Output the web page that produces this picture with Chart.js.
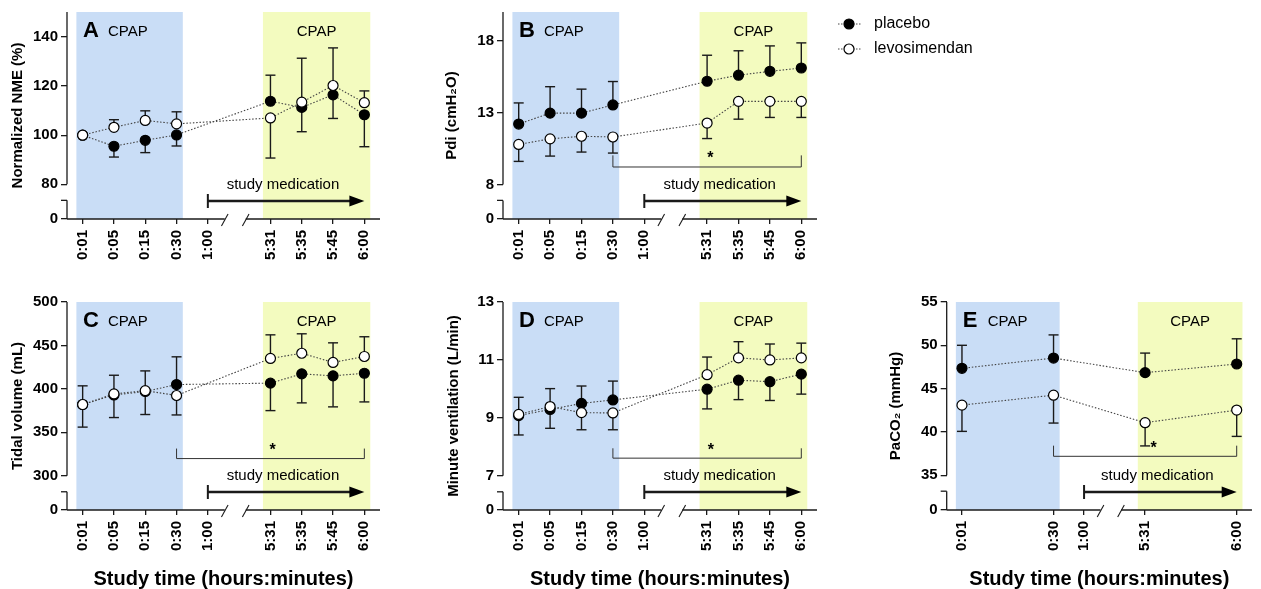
<!DOCTYPE html>
<html>
<head>
<meta charset="utf-8">
<script src="https://cdn.jsdelivr.net/npm/chart.js@4.4.1/dist/chart.umd.min.js"></script>
<style>
  body { margin: 0; background: #fff; width: 1261px; height: 589px; overflow: hidden; position: relative; }
  canvas { position: absolute; }
</style>
</head>
<body>
<script>
// time axis (index 5 is the axis break)
const timeLabels = ['0:01', '0:05', '0:15', '0:30', '1:00', '5:31', '5:35', '5:45', '6:00'];
const timeTicks = [0, 1, 2, 3, 4, 6, 7, 8, 9];
const samplePos = [0, 1, 2, 3, 6, 7, 8, 9];
const gasLabels = ['0:01', '0:30', '1:00', '5:31', '6:00'];
const gasTicks = [0, 3, 4, 6, 9];
const gasPos = [0, 3, 6, 9];

// A - normalized NME (%)
const nmeTicks = [80, 100, 120, 140];
const nmePlacebo = [100, 95.5, 97.9, 100.1, 113.8, 111.3, 116.4, 108.3];
const nmePlaceboUp = [null, null, null, null, 124.4, null, null, null];
const nmePlaceboDown = [null, 91.1, 92.9, 95.6, null, 101.4, 106.8, 95.3];
const nmeLevo = [100, 103.2, 106.0, 104.6, 107.0, 113.4, 120.2, 113.2];
const nmeLevoUp = [null, 106.3, 109.9, 109.5, null, 131.3, 135.5, 118.0];
const nmeLevoDown = [null, null, null, null, 90.7, null, null, null];

// B - Pdi (cmH2O)
const pdiTicks = [8, 13, 18];
const pdiPlacebo = [12.2, 12.96, 12.96, 13.53, 15.18, 15.6, 15.87, 16.1];
const pdiPlaceboUp = [13.67, 14.8, 14.63, 15.16, 16.99, 17.3, 17.64, 17.85];
const pdiLevo = [10.78, 11.17, 11.35, 11.3, 12.27, 13.78, 13.78, 13.78];
const pdiLevoDown = [9.6, 9.97, 10.25, 10.18, 11.19, 12.54, 12.66, 12.66];
const pdiBracket = [3, 9, 9.21, 10.02];   // from, to, level, end tops
const pdiStar = [6.1, 10.0];

// C - tidal volume (mL)
const vtTicks = [300, 350, 400, 450, 500];
const vtPlacebo = [382, 393, 397, 405, 406.6, 417.3, 415, 418];
const vtPlaceboUp = [403.5, 415.7, 420.7, 436.9, null, null, null, null];
const vtPlaceboDown = [null, null, null, null, 375, 383.9, 379.3, 385];
const vtLevo = [382, 394.2, 398, 392.4, 435, 441, 430.4, 437.3];
const vtLevoUp = [null, null, null, null, 462.2, 463.4, 453, 460];
const vtLevoDown = [356, 367, 370.5, 370, null, null, null, null];
const vtBracket = [3, 9, 319.8, 331.3];
const vtStar = [6.07, 333];

// D - minute ventilation (L/min)
const mvTicks = [7, 9, 11, 13];
const mvPlacebo = [9.08, 9.29, 9.5, 9.62, 9.99, 10.3, 10.25, 10.51];
const mvPlaceboUp = [9.71, 10.01, 10.1, 10.27, null, null, null, null];
const mvPlaceboDown = [null, null, null, null, 9.31, 9.63, 9.6, 9.82];
const mvLevo = [9.12, 9.39, 9.18, 9.17, 10.49, 11.07, 11.0, 11.07];
const mvLevoUp = [null, null, null, null, 11.1, 11.63, 11.55, 11.58];
const mvLevoDown = [8.41, 8.64, 8.59, 8.59, null, null, null, null];
const mvBracket = [3, 9, 7.61, 7.95];
const mvStar = [6.12, 7.98];

// E - PaCO2 (mmHg)
const paTicks = [35, 40, 45, 50, 55];
const paPlacebo = [47.34, 48.53, 46.84, 47.84];
const paPlaceboUp = [50.0, 51.2, 49.1, 50.75];
const paLevo = [43.09, 44.24, 41.06, 42.52];
const paLevoDown = [40.06, 41.02, 38.38, 39.48];
const paBracket = [3, 9, 37.18, 38.41];
const paStar = [6.28, 38.4];

const FONT = "'Liberation Sans', Arial, Helvetica, sans-serif";
const INK = '#1a1a1a';
const BLUE = '#c9ddf6';
const GREEN = '#f3fbbf';
Chart.defaults.font.family = FONT;
Chart.defaults.color = '#000';

const panels = [
  { letter: 'A', title: 'Normalized NME (%)', ticks: nmeTicks, min: 65.9, max: 150.1,
    pos: samplePos, xTicks: timeTicks, xLabels: timeLabels,
    placebo: [nmePlacebo, nmePlaceboUp, nmePlaceboDown], levo: [nmeLevo, nmeLevoUp, nmeLevoDown],
    bracket: null, star: null,
    box: { left: 0, top: 0, w: 420, h: 290, yw: 67, xh: 71, padTop: 10, padRight: 40, titleX: 17.5 } },
  { letter: 'B', title: 'Pdi (cmH\u2082O)', ticks: pdiTicks, min: 5.59, max: 20,
    pos: samplePos, xTicks: timeTicks, xLabels: timeLabels,
    placebo: [pdiPlacebo, pdiPlaceboUp, null], levo: [pdiLevo, null, pdiLevoDown],
    bracket: pdiBracket, star: pdiStar, legend: true,
    box: { left: 420, top: 0, w: 841, h: 290, yw: 83, xh: 71, padTop: 10, padRight: 444, titleX: 31.5 } },
  { letter: 'C', title: 'Tidal volume (mL)', ticks: vtTicks, min: 260.6, max: 500,
    pos: samplePos, xTicks: timeTicks, xLabels: timeLabels,
    placebo: [vtPlacebo, vtPlaceboUp, vtPlaceboDown], levo: [vtLevo, vtLevoUp, vtLevoDown],
    bracket: vtBracket, star: vtStar, xTitle: true,
    box: { left: 0, top: 290, w: 420, h: 299, yw: 67, xh: 79, padTop: 11, padRight: 40, titleX: 17.5 } },
  { letter: 'D', title: 'Minute ventilation (L/min)', ticks: mvTicks, min: 5.82, max: 13,
    pos: samplePos, xTicks: timeTicks, xLabels: timeLabels,
    placebo: [mvPlacebo, mvPlaceboUp, mvPlaceboDown], levo: [mvLevo, mvLevoUp, mvLevoDown],
    bracket: mvBracket, star: mvStar, xTitle: true,
    box: { left: 420, top: 290, w: 420, h: 299, yw: 83, xh: 79, padTop: 11, padRight: 23, titleX: 34 } },
  { letter: 'E', title: 'PaCO\u2082 (mmHg)', ticks: paTicks, min: 30.98, max: 55,
    pos: gasPos, xTicks: gasTicks, xLabels: gasLabels,
    placebo: [paPlacebo, paPlaceboUp, null], levo: [paLevo, null, paLevoDown],
    bracket: paBracket, star: paStar, xTitle: true,
    box: { left: 840, top: 290, w: 421, h: 299, yw: 106.7, xh: 79, padTop: 11, padRight: 1.7, titleX: 56 } }
];

function seg(ctx, x1, y1, x2, y2) {
  ctx.beginPath(); ctx.moveTo(x1, y1); ctx.lineTo(x2, y2); ctx.stroke();
}

function marker(ctx, x, y, filled) {
  ctx.beginPath();
  ctx.arc(x, y, 5, 0, Math.PI * 2);
  ctx.fillStyle = filled ? '#000' : '#fff';
  ctx.fill();
  ctx.lineWidth = 1.2; ctx.strokeStyle = '#000';
  ctx.stroke();
}

function decoPlugin(p) {
  return {
    id: 'deco' + p.letter,
    beforeDraw(chart) {
      const { ctx, chartArea: a, scales: { x } } = chart;
      ctx.save();
      ctx.fillStyle = BLUE;
      ctx.fillRect(x.getPixelForValue(-0.2), a.top, x.getPixelForValue(3.2) - x.getPixelForValue(-0.2), a.bottom - a.top);
      ctx.fillStyle = GREEN;
      ctx.fillRect(x.getPixelForValue(5.76), a.top, x.getPixelForValue(9.19) - x.getPixelForValue(5.76), a.bottom - a.top);
      ctx.restore();
    },
    beforeDatasetsDraw(chart) {
      // error bars, under the markers
      const { ctx, scales: { x, y } } = chart;
      ctx.save();
      ctx.strokeStyle = INK; ctx.lineWidth = 1.4;
      [p.placebo, p.levo].forEach(s => {
        [s[1], s[2]].forEach(ends => {
          if (!ends) return;
          ends.forEach((e, i) => {
            if (e == null) return;
            const px = x.getPixelForValue(p.pos[i]);
            seg(ctx, px, y.getPixelForValue(s[0][i]), px, y.getPixelForValue(e));
            seg(ctx, px - 5, y.getPixelForValue(e), px + 5, y.getPixelForValue(e));
          });
        });
      });
      ctx.restore();
    },
    afterDraw(chart) {
      const { ctx, chartArea: a, scales: { x, y } } = chart;
      ctx.save();
      ctx.strokeStyle = INK; ctx.lineWidth = 1.3;
      // broken y axis
      const yb = y.getPixelForValue(p.ticks[0]);
      seg(ctx, a.left, a.top, a.left, yb);
      seg(ctx, a.left, yb + 16, a.left, a.bottom);
      seg(ctx, a.left - 6, yb + 16, a.left, yb + 16);
      // broken x axis
      const s1 = x.getPixelForValue(4.54), s2 = x.getPixelForValue(5.21);
      seg(ctx, a.left, a.bottom, s1, a.bottom);
      seg(ctx, s2, a.bottom, a.right, a.bottom);
      ctx.lineWidth = 1.1;
      seg(ctx, s1 - 3.3, a.bottom + 7, s1 + 3.3, a.bottom - 5);
      seg(ctx, s2 - 3.3, a.bottom + 7, s2 + 3.3, a.bottom - 5);

      // panel letter and CPAP labels
      ctx.fillStyle = '#000';
      ctx.textBaseline = 'middle';
      ctx.textAlign = 'left';
      ctx.font = 'bold 22px ' + FONT;
      ctx.fillText(p.letter, a.left + 16, a.top + 19);
      ctx.font = '15px ' + FONT;
      ctx.fillText('CPAP', a.left + 41, a.top + 20);
      ctx.textAlign = 'center';
      ctx.fillText('CPAP', (x.getPixelForValue(5.76) + x.getPixelForValue(9.19)) / 2, a.top + 20);

      // study medication arrow
      const ax1 = x.getPixelForValue(4), ax2 = x.getPixelForValue(9), ay = a.bottom - 18;
      ctx.fillText('study medication', x.getPixelForValue(6.4), a.bottom - 34);
      ctx.lineWidth = 2.6;
      seg(ctx, ax1, ay, ax2 - 12, ay);
      ctx.lineWidth = 2;
      seg(ctx, ax1, ay - 7, ax1, ay + 7);
      ctx.beginPath();
      ctx.moveTo(ax2, ay); ctx.lineTo(ax2 - 15, ay - 5.5); ctx.lineTo(ax2 - 15, ay + 5.5); ctx.closePath();
      ctx.fill();

      // significance bracket
      if (p.bracket) {
        const [f, t, lv, tp] = p.bracket;
        const bx1 = x.getPixelForValue(f), bx2 = x.getPixelForValue(t);
        const by = y.getPixelForValue(lv), bt = y.getPixelForValue(tp);
        ctx.lineWidth = 1;
        ctx.strokeStyle = '#333';
        ctx.beginPath();
        ctx.moveTo(bx1, bt); ctx.lineTo(bx1, by); ctx.lineTo(bx2, by); ctx.lineTo(bx2, bt);
        ctx.stroke();
        ctx.font = 'bold 16px ' + FONT;
        ctx.fillText('*', x.getPixelForValue(p.star[0]), y.getPixelForValue(p.star[1]) + 3);
      }

      // legend
      if (p.legend) {
        const lx = a.right + 32;
        [[24, true, 'placebo'], [49, false, 'levosimendan']].forEach(([ly, filled, txt]) => {
          ctx.strokeStyle = '#444'; ctx.lineWidth = 1;
          ctx.setLineDash([1.5, 1.5]);
          seg(ctx, lx - 11, ly, lx + 13, ly);
          ctx.setLineDash([]);
          marker(ctx, lx, ly, filled);
          ctx.fillStyle = '#000';
          ctx.textAlign = 'left';
          ctx.font = '16px ' + FONT;
          ctx.fillText(txt, lx + 25, ly);
        });
      }
      ctx.restore();
    }
  };
}

function makePanel(p) {
  const b = p.box;
  const cv = document.createElement('canvas');
  cv.width = b.w; cv.height = b.h;
  cv.style.left = b.left + 'px'; cv.style.top = b.top + 'px';
  cv.style.width = b.w + 'px'; cv.style.height = b.h + 'px';
  document.body.appendChild(cv);

  const line = (vals, filled, name, order) => ({
    label: name,
    data: p.pos.map((px, i) => ({ x: px, y: vals[i] })),
    borderColor: '#444',
    borderWidth: 1.1,
    borderDash: [1.5, 1.8],
    pointRadius: 5,
    pointHoverRadius: 5,
    pointBorderWidth: 1.2,
    pointBorderColor: '#000',
    pointBackgroundColor: filled ? '#000' : '#fff',
    tension: 0,
    order: order
  });

  const tickFont = { family: FONT, size: 15, weight: 'bold' };

  new Chart(cv, {
    type: 'line',
    data: { datasets: [line(p.placebo[0], true, 'placebo', 1), line(p.levo[0], false, 'levosimendan', 0)] },
    options: {
      responsive: false,
      animation: false,
      devicePixelRatio: 1,
      layout: { padding: { top: b.padTop, right: b.padRight, left: 0, bottom: 0 } },
      plugins: { legend: { display: false }, tooltip: { enabled: false } },
      scales: {
        x: {
          type: 'linear', min: -0.5, max: 9.5,
          afterBuildTicks: s => { s.ticks = p.xTicks.map(v => ({ value: v })); },
          afterFit: s => { s.height = b.xh; },
          ticks: {
            autoSkip: false, minRotation: 90, maxRotation: 90, padding: 6,
            font: tickFont, color: '#000',
            callback: v => p.xLabels[p.xTicks.indexOf(v)]
          },
          grid: { drawOnChartArea: false, drawTicks: true, tickLength: 5, color: INK, lineWidth: 1.3 },
          border: { display: false },
          title: {
            display: !!p.xTitle, text: 'Study time (hours:minutes)',
            font: { family: FONT, size: 20, weight: 'bold' }, color: '#000',
            padding: { top: 0, bottom: -2 }
          }
        },
        y: {
          type: 'linear', min: p.min, max: p.max,
          afterBuildTicks: s => { s.ticks = [p.min].concat(p.ticks).map(v => ({ value: v })); },
          afterFit: s => { s.width = b.yw; },
          ticks: {
            padding: 3, font: tickFont, color: '#000',
            callback: v => (v === p.min ? '0' : String(v))
          },
          grid: { drawOnChartArea: false, drawTicks: true, tickLength: 6, color: INK, lineWidth: 1.3 },
          border: { display: false },
          title: {
            display: true, text: p.title,
            font: { family: FONT, size: 15, weight: 'bold' }, color: '#000',
            padding: { top: b.titleX - 9, bottom: 0 }
          }
        }
      }
    },
    plugins: [decoPlugin(p)]
  });
}

panels.forEach(makePanel);
</script>
</body>
</html>
